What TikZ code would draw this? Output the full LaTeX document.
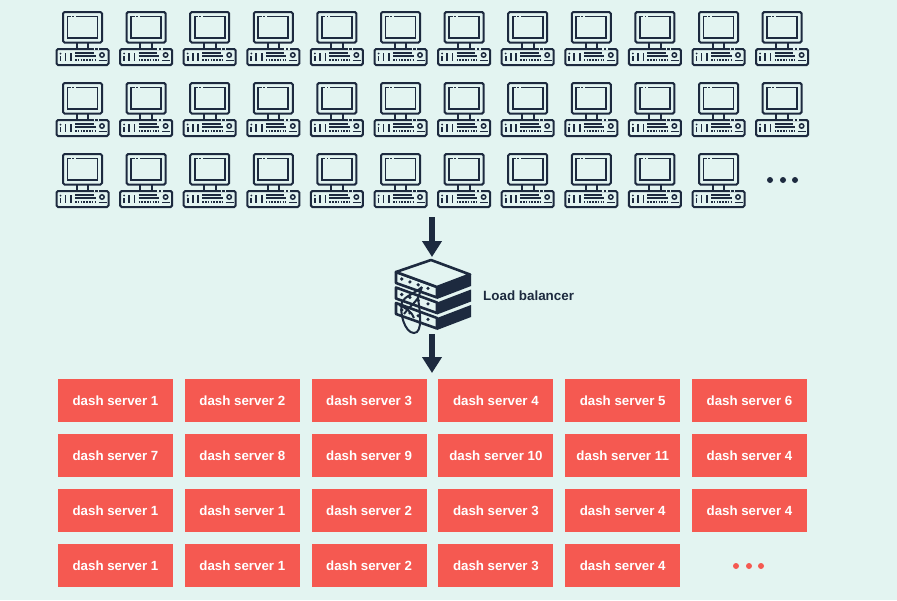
\documentclass[tikz,border=0pt]{standalone}
\usepackage{fontspec}
\setmainfont{Liberation Sans}
\usetikzlibrary{arrows.meta}
\definecolor{bgc}{HTML}{E3F4F1}
\definecolor{ink}{HTML}{1D2A3F}
\definecolor{redbox}{HTML}{F55951}
\tikzset{
  iconline/.style={draw=ink,line width=2pt},
  lbline/.style={draw=ink,line width=2.6pt,line join=round},
  cable/.style={draw=ink,line width=2pt},
  serverbox/.style={fill=redbox,minimum width=115pt,minimum height=43pt,inner sep=0pt,text=white,font=\fontsize{13.3pt}{16pt}\selectfont\bfseries},
  flowarrow/.style={draw=ink,line width=5.5pt,-{Triangle[length=16pt,width=19pt]}},
  pics/computer/.style={code={
    \draw[iconline,rounded corners=1.5pt] (-19.5,0) rectangle (19.5,30.5);
    \draw[iconline,line width=1.8pt] (-15,4.5) rectangle (15,26);
    \draw[bgc,line width=2.2pt] (-11.5,4.5) -- (-10.3,4.5) (-8.6,4.5) -- (-6.6,4.5);
    \draw[iconline] (-5.8,30.5) -- (-5.8,37) (5.8,30.5) -- (5.8,37);
    \draw[iconline,rounded corners=1.5pt] (-26,37) rectangle (26,53);
    \draw[bgc,line width=2.2pt] (11,37) -- (12.5,37) (15,37) -- (16.5,37);
    \draw[draw=ink,line width=1.7pt] (-22,44) -- (-22,49) (-17,41) -- (-17,49) (-11.5,41) -- (-11.5,49);
    \fill[ink] (-22,41.5) circle (1);
    \draw[draw=ink,line width=1.3pt] (-7.5,41) -- (11,41) (-7.5,44) -- (13,44);
    \draw[draw=ink,line width=1.4pt,dash pattern=on 1.5pt off 1.3pt] (-7.5,48) -- (13,48);
    \draw[draw=ink,line width=1.5pt] (19.5,43) circle (2.2);
    \draw[draw=ink,line width=1.7pt] (16,48.5) -- (24,48.5);
  }},
  pics/slab/.style={code={
    \fill[ink] (437,287) -- (471,274) -- (471,286) -- (437,299) -- cycle;
    \draw[lbline,fill=bgc] (396,272) -- (437,287) -- (437,297.5) -- (396,283) -- cycle;
    \foreach \t in {.14,.34,.54,.78}
      \fill[ink] ({396+41*\t},{277+14.5*\t}) circle (1.8);
  }}
}
\begin{document}
\begin{tikzpicture}[x=1pt,y=-1pt]
\useasboundingbox (0,0) rectangle (897,600);
\fill[bgc] (0,0) rectangle (897,600);
% computers
\foreach \r/\yy in {0/12,1/83,2/154}
  \foreach \c in {0,...,11}{
    \ifnum\r=2 \ifnum\c=11 \else
      \pic at ({82.5+63.6*\c},\yy) {computer};
    \fi\else
      \pic at ({82.5+63.6*\c},\yy) {computer};
    \fi
  }
\foreach \x in {770,783,795} \fill[ink] (\x,180) circle (3);
% load balancer
\pic at (0,31) {slab};
\pic at (0,15.5) {slab};
\pic at (0,0) {slab};
\draw[lbline,fill=bgc] (431,260) -- (470,274.5) -- (437,287) -- (396,272) -- cycle;
\draw[cable] (422,287) .. controls (414,294) and (405,296) .. (402,302) .. controls (399,313) and (405,333) .. (414,333) .. controls (423,333) and (420,312) .. (418,298) -- (422,287);
\draw[cable] (404,314) .. controls (408,308) and (414,304) .. (418,298);
\draw[cable] (399,305) .. controls (406,308) and (412,312) .. (414,318);
\node[anchor=west,inner sep=0pt,text=ink,font=\fontsize{13.4pt}{15pt}\selectfont\bfseries] (lb) at (483,296) {Load balancer};
% arrows
\coordinate (a1) at (432,217);
\coordinate (a2) at (432,257);
\coordinate (b1) at (432,334);
\coordinate (b2) at (432,373);
\draw[flowarrow] (a1) -- (a2);
\draw[flowarrow] (b1) -- (b2);
% servers
\foreach \r/\yy/\labs in {0/400.5/{1,2,3,4,5,6},1/455.5/{7,8,9,10,11,4},2/510.5/{1,1,2,3,4,4},3/565.5/{1,1,2,3,4}}{
  \foreach \n [count=\c from 0] in \labs
    \node[serverbox,text depth=0pt] (s\r-\c) at ({115.5+126.8*\c},\yy) {dash server \n};
}
\foreach \x in {736,749,761} \fill[redbox] (\x,566) circle (3);
\end{tikzpicture}
\end{document}
